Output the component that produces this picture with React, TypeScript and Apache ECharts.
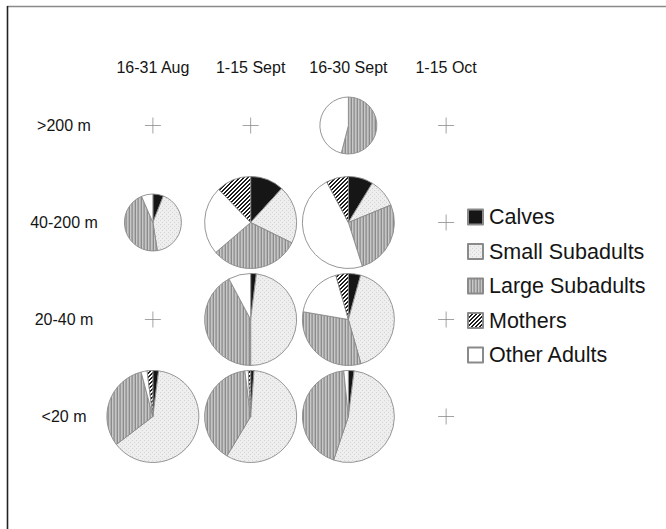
import React, { useEffect, useRef } from "react";
import * as echarts from "echarts";

// Survey periods (columns) and depth strata (rows)
const periods = ["16-31 Aug", "1-15 Sept", "16-30 Sept", "1-15 Oct"];
const depths = [">200 m", "40-200 m", "20-40 m", "<20 m"];
const classNames = ["Calves", "Small Subadults", "Large Subadults", "Mothers", "Other Adults"];

// Cells holding a composition pie (period index, depth index)
const cellPeriod = [2, 0, 1, 2, 1, 2, 0, 1, 2];
const cellDepth = [0, 1, 1, 1, 2, 2, 3, 3, 3];
// Composition of each cell (%)
const calves = [0, 6, 11.8, 8.7, 2, 4.3, 2, 1.2, 2];
const smallSubadults = [0, 41.5, 20.5, 10.1, 48, 41.3, 62.6, 57.4, 53.2];
const largeSubadults = [54, 46, 31.4, 26.3, 42.2, 32.1, 31.3, 39.4, 43.2];
const otherAdults = [46, 6.5, 24.1, 47.1, 7.8, 17.9, 2.1, 1.2, 1.6];
const mothers = [0, 0, 12.2, 7.8, 0, 4.4, 2, 0.8, 0];
// Sample-size class of each cell: 0 = small, 1 = large
const sizeClass = [0, 0, 1, 1, 1, 1, 1, 1, 1];

// Cells without observations (period index, depth index)
const emptyPeriod = [0, 1, 3, 3, 0, 3, 3];
const emptyDepth = [0, 0, 0, 1, 2, 2, 3];

const FONT = "'Liberation Sans', Arial, Helvetica, sans-serif";

function makePattern(w: number, h: number, draw: (ctx: CanvasRenderingContext2D) => void) {
  const c = document.createElement("canvas");
  c.width = w;
  c.height = h;
  const ctx = c.getContext("2d") as CanvasRenderingContext2D;
  draw(ctx);
  return { image: c, repeat: "repeat" as const };
}

function buildFills() {
  const dotted = makePattern(4, 4, (ctx) => {
    ctx.fillStyle = "#eeeeee";
    ctx.fillRect(0, 0, 4, 4);
    ctx.fillStyle = "#d4d4d4";
    ctx.fillRect(0, 0, 1, 1);
    ctx.fillRect(2, 2, 1, 1);
  });
  const striped = makePattern(6, 1, (ctx) => {
    const cols = ["#9a9a9a", "#c4c4c4", "#b2b2b2", "#8a8a8a", "#c9c9c9", "#a6a6a6"];
    cols.forEach((c, i) => {
      ctx.fillStyle = c;
      ctx.fillRect(i, 0, 1, 1);
    });
  });
  const hatched = makePattern(4, 4, (ctx) => {
    ctx.fillStyle = "#ffffff";
    ctx.fillRect(0, 0, 4, 4);
    ctx.fillStyle = "#1e1e1e";
    for (let x = 0; x < 4; x++) {
      for (let y = 0; y < 4; y++) {
        if ((x + y) % 4 < 2) ctx.fillRect(x, y, 1, 1);
      }
    }
  });
  return {
    Calves: "#161616",
    "Small Subadults": dotted,
    "Large Subadults": striped,
    Mothers: hatched,
    "Other Adults": "#ffffff",
  } as Record<string, any>;
}

export default function App() {
  const ref = useRef<HTMLDivElement>(null);

  useEffect(() => {
    if (!ref.current) return;
    const chart = echarts.init(ref.current, undefined, { renderer: "svg" });
    const fills = buildFills();

    const crossSeries = {
      type: "scatter",
      z: 1,
      symbol: "path://M0 8H16M8 0V16",
      symbolSize: 16,
      itemStyle: { color: "transparent", borderColor: "#8c8c8c", borderWidth: 1 },
      data: emptyPeriod.map((p, i) => [periods[p], depths[emptyDepth[i]]]),
      silent: true,
    };

    chart.setOption({
      animation: false,
      textStyle: { fontFamily: FONT },
      grid: { left: 104, top: 77, width: 391, height: 388 },
      xAxis: {
        type: "category",
        position: "top",
        data: periods,
        axisLine: { show: false },
        axisTick: { show: false },
        splitLine: { show: false },
        axisLabel: {
          interval: 0,
          margin: 2,
          fontSize: 16,
          color: "#151515",
          fontFamily: FONT,
          formatter: (v: string) => (v === "1-15 Oct" ? "{low|" + v + "}" : v),
          rich: { low: { fontSize: 16, color: "#151515", fontFamily: FONT, padding: [5, 0, 0, 0] } },
        },
      },
      yAxis: {
        type: "category",
        inverse: true,
        data: depths,
        axisLine: { show: false },
        axisTick: { show: false },
        splitLine: { show: false },
        axisLabel: { interval: 0, margin: 40, align: "center", fontSize: 16, color: "#151515", fontFamily: FONT },
      },
      legend: {
        orient: "vertical",
        left: 467,
        top: 206,
        padding: 0,
        icon: "rect",
        itemWidth: 15,
        itemHeight: 15,
        itemGap: 12.5,
        selectedMode: false,
        data: classNames,
        textStyle: { fontSize: 21.5, lineHeight: 21, color: "#151515", fontFamily: FONT, padding: [0, 0, 0, 1] },
      },
      graphic: [
        { type: "line", shape: { x1: 7, y1: 6.5, x2: 666, y2: 6.5 }, style: { stroke: "#8a8a8a", lineWidth: 1.5 } },
        { type: "line", shape: { x1: 7.5, y1: 6, x2: 7.5, y2: 529 }, style: { stroke: "#222222", lineWidth: 1.6 } },
      ],
      series: [crossSeries],
    });

    const radii = [28.5, 46];
    const pies = cellPeriod.map((p, i) => {
      const center = chart.convertToPixel({ gridIndex: 0 }, [periods[p], depths[cellDepth[i]]]) as number[];
      const values: [string, number][] = [
        ["Calves", calves[i]],
        ["Small Subadults", smallSubadults[i]],
        ["Large Subadults", largeSubadults[i]],
        ["Other Adults", otherAdults[i]],
        ["Mothers", mothers[i]],
      ];
      return {
        type: "pie",
        z: 2,
        center,
        radius: radii[sizeClass[i]],
        startAngle: 90,
        clockwise: true,
        silent: true,
        label: { show: false },
        labelLine: { show: false },
        emphasis: { disabled: true },
        itemStyle: { borderColor: "#8a8a8a", borderWidth: 0.9 },
        data: values
          .filter(([, v]) => v > 0)
          .map(([name, v]) => ({ name, value: v, itemStyle: { color: fills[name] } })),
      };
    });

    chart.setOption({ series: [crossSeries, ...pies] });

    return () => chart.dispose();
  }, []);

  return (
    <div
      ref={ref}
      style={{ position: "fixed", left: 0, top: 0, width: 666, height: 529, background: "#ffffff" }}
    />
  );
}
